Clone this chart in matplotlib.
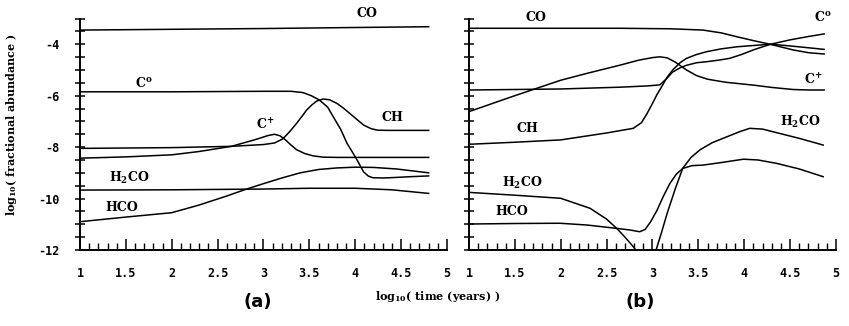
import matplotlib
matplotlib.use("Agg")
import matplotlib.pyplot as plt
import numpy as np

plt.rcParams['mathtext.fontset'] = 'dejavuserif'

# ---- panel (a) ----
co_a_x = [1, 2, 3, 4, 4.8]
co_a_y = [-3.45, -3.42, -3.39, -3.35, -3.32]

c0_a_x = [1, 2, 3, 3.3, 3.43, 3.52, 3.61, 3.7, 3.76, 3.84, 3.91, 3.97, 4.02, 4.09, 4.14, 4.19, 4.3, 4.38, 4.6, 4.8]
c0_a_y = [-5.85, -5.85, -5.83, -5.83, -5.88, -6.0, -6.17, -6.45, -6.82, -7.3, -7.85, -8.2, -8.5, -8.96, -9.12, -9.19, -9.2, -9.19, -9.15, -9.12]

ch_a_x = [1, 2, 2.65, 3.0, 3.12, 3.21, 3.28, 3.36, 3.42, 3.47, 3.53, 3.58, 3.65, 3.72, 3.8, 3.87, 3.94, 4.02, 4.09, 4.17, 4.24, 4.35, 4.8]
ch_a_y = [-8.05, -8.02, -7.97, -7.9, -7.84, -7.68, -7.42, -7.08, -6.8, -6.56, -6.35, -6.21, -6.13, -6.16, -6.3, -6.48, -6.69, -6.93, -7.14, -7.28, -7.34, -7.35, -7.35]

cp_a_x = [1, 1.5, 2, 2.3, 2.65, 2.9, 3.05, 3.12, 3.18, 3.24, 3.3, 3.36, 3.45, 3.54, 3.65, 3.8, 4.8]
cp_a_y = [-8.43, -8.38, -8.3, -8.17, -7.97, -7.72, -7.55, -7.5, -7.56, -7.72, -7.92, -8.1, -8.25, -8.34, -8.39, -8.4, -8.4]

hco_a_x = [1, 1.5, 2, 2.3, 2.6, 2.8, 3.0, 3.2, 3.4, 3.6, 3.8, 4.0, 4.2, 4.45, 4.8]
hco_a_y = [-10.9, -10.72, -10.55, -10.25, -9.9, -9.65, -9.42, -9.2, -9.0, -8.87, -8.81, -8.78, -8.79, -8.85, -9.0]

h2co_a_x = [1, 2, 3, 3.5, 4, 4.4, 4.8]
h2co_a_y = [-9.67, -9.66, -9.63, -9.6, -9.6, -9.66, -9.8]

# ---- panel (b) ----
co_b_x = [1, 2, 2.65, 3.2, 3.55, 3.75, 3.92, 4.1, 4.28, 4.53, 4.7, 4.87]
co_b_y = [-3.38, -3.38, -3.38, -3.4, -3.45, -3.56, -3.71, -3.86, -4.0, -4.22, -4.33, -4.38]

cp_b_x = [1, 1.5, 2, 2.3, 2.65, 2.85, 3.0, 3.08, 3.16, 3.25, 3.37, 3.48, 3.6, 3.8, 4.1, 4.3, 4.53, 4.7, 4.87]
cp_b_y = [-6.62, -6.0, -5.4, -5.12, -4.81, -4.62, -4.52, -4.49, -4.53, -4.7, -5.0, -5.22, -5.36, -5.48, -5.59, -5.68, -5.76, -5.78, -5.78]

c0_b_x = [1, 2, 2.65, 2.95, 3.08, 3.15, 3.22, 3.3, 3.37, 3.48, 3.59, 3.72, 3.84, 3.97, 4.1, 4.2, 4.3, 4.5, 4.7, 4.87]
c0_b_y = [-5.78, -5.74, -5.67, -5.62, -5.58, -5.35, -5.08, -4.92, -4.82, -4.72, -4.68, -4.62, -4.55, -4.4, -4.22, -4.1, -3.99, -3.83, -3.7, -3.6]

ch_b_x = [1, 1.5, 2, 2.5, 2.79, 2.88, 2.94, 3.0, 3.05, 3.11, 3.16, 3.22, 3.3, 3.37, 3.48, 3.59, 3.75, 3.92, 4.1, 4.28, 4.45, 4.65, 4.87]
ch_b_y = [-7.89, -7.81, -7.72, -7.45, -7.27, -7.05, -6.7, -6.3, -5.95, -5.59, -5.28, -5.0, -4.72, -4.55, -4.4, -4.29, -4.18, -4.1, -4.05, -4.0, -4.05, -4.12, -4.2]

h2co_b_x = [1, 1.5, 2, 2.32, 2.5, 2.61, 2.7, 2.79, 2.84, 2.95, 3.03, 3.1, 3.16, 3.25, 3.33, 3.42, 3.52, 3.65, 3.81, 3.95, 4.06, 4.2, 4.31, 4.6, 4.86]
h2co_b_y = [-9.76, -9.87, -9.99, -10.38, -10.8, -11.16, -11.5, -11.87, -12.1, -12.6, -12.1, -11.3, -10.57, -9.6, -8.82, -8.4, -8.1, -7.83, -7.6, -7.4, -7.27, -7.3, -7.4, -7.66, -7.92]

hco_b_x = [1, 1.5, 1.99, 2.29, 2.61, 2.75, 2.86, 2.92, 2.98, 3.05, 3.12, 3.19, 3.26, 3.33, 3.43, 3.55, 3.75, 3.99, 4.15, 4.35, 4.6, 4.86]
hco_b_y = [-10.99, -10.97, -10.96, -11.03, -11.16, -11.22, -11.29, -11.2, -10.9, -10.45, -9.9, -9.41, -9.05, -8.83, -8.72, -8.7, -8.6, -8.47, -8.5, -8.63, -8.85, -9.15]

xtick_vals = [1, 1.5, 2, 2.5, 3, 3.5, 4, 4.5, 5]
xtick_text = ['1', '1.5', '2', '2.5', '3', '3.5', '4', '4.5', '5']
ytick_vals = [-12, -10, -8, -6, -4]
ytick_text = ['-12', '-10', '-8', '-6', '-4']

serif = 'DejaVu Serif'
mono = 'DejaVu Sans Mono'
lw = 1.1

fig = plt.figure(figsize=(8.49, 3.26), dpi=100)
ax_a = fig.add_axes([80 / 849, 1 - 250 / 326, 367 / 849, 231.5 / 326])
ax_b = fig.add_axes([469 / 849, 1 - 250 / 326, 367 / 849, 231.5 / 326])


def style_axes(ax, show_ylabels):
    ax.set_xlim(1, 5)
    ax.set_ylim(-12, -3)
    ax.spines['top'].set_visible(False)
    ax.spines['right'].set_visible(False)
    ax.spines['left'].set_linewidth(1.4)
    ax.spines['bottom'].set_linewidth(1.4)
    ax.set_xticks(xtick_vals)
    ax.set_xticklabels(xtick_text, fontfamily=mono, fontweight='bold', fontsize=8.5)
    ax.set_xticks(np.arange(1, 5.01, 0.1), minor=True)
    ax.tick_params(axis='x', which='major', direction='in', length=8, width=1.1, pad=12)
    ax.tick_params(axis='x', which='minor', direction='in', length=5, width=1.0)
    ax.set_yticks(ytick_vals)
    ax.set_yticks(np.arange(-12, -2.99, 0.5), minor=True)
    ax.tick_params(axis='y', which='both', direction='inout', length=7, width=1.1, pad=11)
    if show_ylabels:
        ax.set_yticklabels(ytick_text, fontfamily=mono, fontweight='bold', fontsize=8.5)
    else:
        ax.set_yticklabels([])


def label(ax, x, y, s):
    ax.text(x, y, s, fontfamily=serif, fontweight='bold', fontsize=9,
            ha='center', va='center', clip_on=False)


style_axes(ax_a, True)
style_axes(ax_b, False)

for xs, ys in [(co_a_x, co_a_y), (c0_a_x, c0_a_y), (ch_a_x, ch_a_y),
               (cp_a_x, cp_a_y), (hco_a_x, hco_a_y), (h2co_a_x, h2co_a_y)]:
    ax_a.plot(xs, ys, color='black', lw=lw)

for xs, ys in [(co_b_x, co_b_y), (c0_b_x, c0_b_y), (ch_b_x, ch_b_y),
               (cp_b_x, cp_b_y), (hco_b_x, hco_b_y), (h2co_b_x, h2co_b_y)]:
    ax_b.plot(xs, ys, color='black', lw=lw)

label(ax_a, 4.13, -2.79, 'CO')
label(ax_a, 1.69, -5.5, r'C$^\mathbf{o}$')
label(ax_a, 3.02, -7.14, r'C$^\mathbf{+}$')
label(ax_a, 4.41, -6.83, 'CH')
label(ax_a, 1.54, -9.2, r'H$_\mathbf{2}$CO')
label(ax_a, 1.46, -10.33, 'HCO')

label(ax_b, 1.73, -2.97, 'CO')
label(ax_b, 4.86, -2.93, r'C$^\mathbf{o}$')
label(ax_b, 4.75, -5.39, r'C$^\mathbf{+}$')
label(ax_b, 1.64, -7.26, 'CH')
label(ax_b, 4.61, -7.01, r'H$_\mathbf{2}$CO')
label(ax_b, 1.58, -9.41, r'H$_\mathbf{2}$CO')
label(ax_b, 1.47, -10.51, 'HCO')

fig.text(12 / 849, 1 - 125 / 326, r'log$_\mathbf{10}$( fractional abundance )',
         rotation=90, ha='center', va='center', fontfamily=serif,
         fontweight='bold', fontsize=8)
fig.text(438 / 849, 1 - 296 / 326, r'log$_\mathbf{10}$( time (years) )',
         ha='center', va='center', fontfamily=serif, fontweight='bold', fontsize=8)
fig.text(258 / 849, 1 - 302 / 326, '(a)', ha='center', va='center',
         fontweight='bold', fontsize=13)
fig.text(640 / 849, 1 - 302 / 326, '(b)', ha='center', va='center',
         fontweight='bold', fontsize=13)

fig.savefig('out.png', dpi=100)
